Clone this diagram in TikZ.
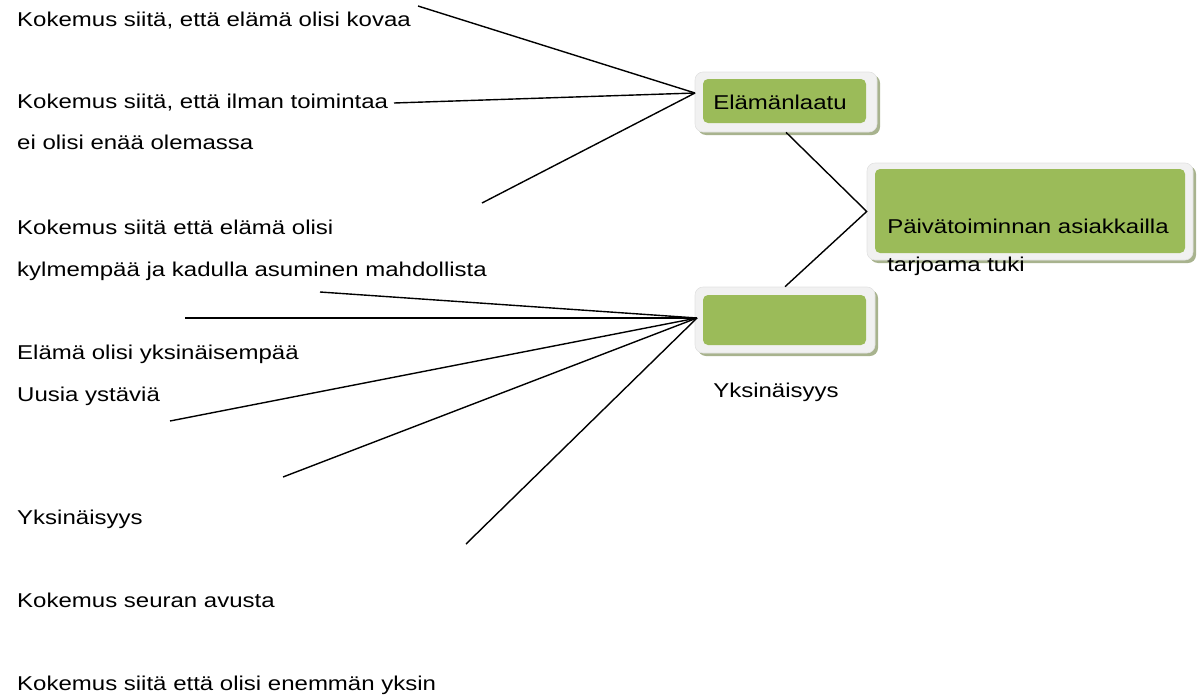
\documentclass[tikz,border=0pt]{standalone}
\usepackage{fontspec}
\setmainfont{Liberation Sans}
\usetikzlibrary{shadows}
\definecolor{boxgreen}{HTML}{9BBB59}
\definecolor{framegray}{HTML}{F1F1F1}
\definecolor{frameedge}{HTML}{E2E2E2}
\definecolor{shadowgreen}{HTML}{A8B38E}
\tikzset{
  txt/.style={anchor=base west, inner sep=0pt, xscale=1.2, font=\fontsize{20}{24}\selectfont},
  frame/.style={fill=framegray, draw=frameedge, line width=0.6pt, rounded corners=8pt,
    drop shadow={shadow xshift=3pt, shadow yshift=-3pt, fill=shadowgreen, opacity=1},
    inner sep=0pt},
  inner/.style={fill=boxgreen, draw=none, rounded corners=5pt, inner sep=0pt},
  conn/.style={line width=1.4pt, black}
}
\begin{document}
\begin{tikzpicture}[x=1pt,y=-1pt]
\useasboundingbox (0,0) rectangle (1198,696);

% boxes
\node[frame, minimum width=182pt, minimum height=60pt] (box1) at (786,102) {};
\node[inner, minimum width=163pt, minimum height=44pt] (g1) at (784.5,101) {};
\node[frame, minimum width=326pt, minimum height=97pt] (box2) at (1030,211.5) {};
\node[inner, minimum width=310pt, minimum height=84pt] (g2) at (1030,211) {};
\node[frame, minimum width=180pt, minimum height=66pt] (box3) at (785,320) {};
\node[inner, minimum width=163pt, minimum height=50pt] (g3) at (784.5,320) {};

% box texts
\node[txt] (t1) at (713,109) {Elämänlaatu};
\node[txt] (t2) at (887,233) {Päivätoiminnan asiakkailla};
\node[txt] (t3) at (887,271) {tarjoama tuki};
\node[txt] (t4) at (713,397) {Yksinäisyys};

% left texts
\node[txt] (l1) at (17,26) {Kokemus siitä, että elämä olisi kovaa};
\node[txt] (l2) at (17,108) {Kokemus siitä, että ilman toimintaa};
\node[txt] (l3) at (17,149) {ei olisi enää olemassa};
\node[txt] (l4) at (17,234) {Kokemus siitä että elämä olisi};
\node[txt] (l5) at (17,276) {kylmempää ja kadulla asuminen mahdollista};
\node[txt] (l6) at (17,359) {Elämä olisi yksinäisempää};
\node[txt] (l7) at (17,401) {Uusia ystäviä};
\node[txt] (l8) at (17,524) {Yksinäisyys};
\node[txt] (l9) at (17,607) {Kokemus seuran avusta};
\node[txt] (l10) at (17,690) {Kokemus siitä että olisi enemmän yksin};

% hubs and free ends
\coordinate (hub1) at (695,93);
\coordinate (hub2) at (697,318);
\coordinate (a1) at (418,6);
\coordinate (a2) at (394,103);
\coordinate (a3) at (482,203);
\coordinate (b1) at (320,292);
\coordinate (b2) at (185,318);
\coordinate (b3) at (170,421);
\coordinate (b4) at (283,477);
\coordinate (b5) at (466,544);

\draw[conn] (a1) -- (hub1);
\draw[conn] (a2) -- (hub1);
\draw[conn] (a3) -- (hub1);
\draw[conn] (b1) -- (hub2);
\draw[conn] (b2) -- (hub2);
\draw[conn] (b3) -- (hub2);
\draw[conn] (b4) -- (hub2);
\draw[conn] (b5) -- (hub2);

\draw[conn] (box1.south) -- (box2.west) -- (box3.north);
\end{tikzpicture}
\end{document}
